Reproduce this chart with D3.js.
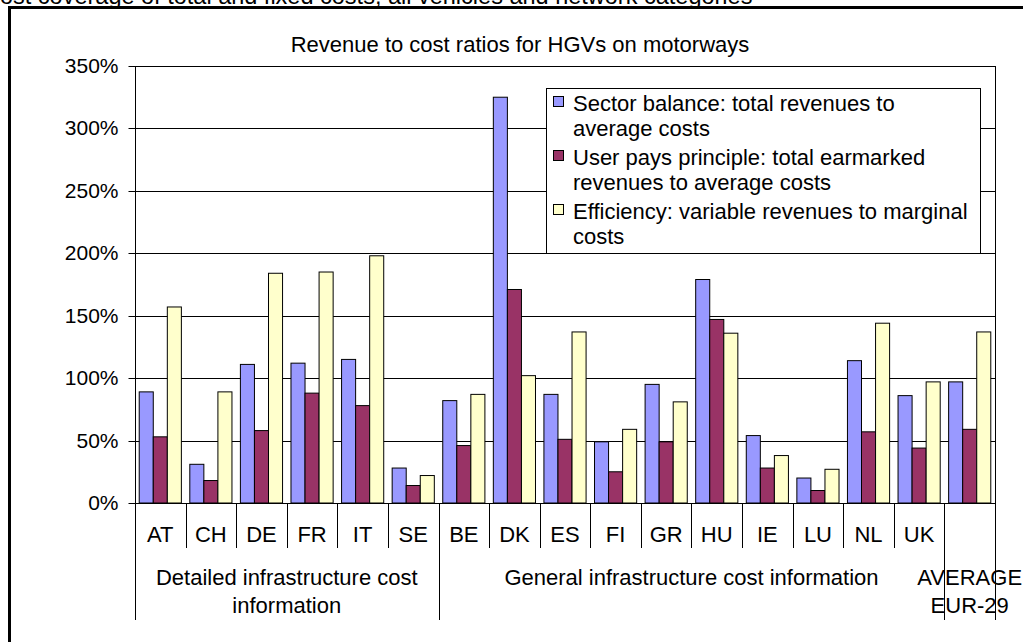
<!DOCTYPE html>
<html>
<head>
<meta charset="utf-8">
<script src="https://cdnjs.cloudflare.com/ajax/libs/d3/7.8.5/d3.min.js"></script>
<style>
  body { margin: 0; background: #fff; }
  svg text { font-family: "Liberation Sans", Arial, sans-serif; fill: #000; }
</style>
</head>
<body>
<svg id="chart"></svg>
<script>
// data
var categories = ["AT","CH","DE","FR","IT","SE","BE","DK","ES","FI","GR","HU","IE","LU","NL","UK","AVG"];
var catLabels  = ["AT","CH","DE","FR","IT","SE","BE","DK","ES","FI","GR","HU","IE","LU","NL","UK",""];
var sectorBalance = [89, 31, 111, 112, 115, 28, 82, 325, 87, 49, 95, 179, 54, 20, 114, 86, 97];
var userPays      = [53, 18, 58, 88, 78, 14, 46, 171, 51, 25, 49, 147, 28, 10, 57, 44, 59];
var efficiency    = [157, 89, 184, 185, 198, 22, 87, 102, 137, 59, 81, 136, 38, 27, 144, 97, 137];
var seriesNames = [
  ["Sector balance: total revenues to", "average costs"],
  ["User pays principle: total earmarked", "revenues to average costs"],
  ["Efficiency: variable revenues to marginal", "costs"]
];
var seriesColors = ["#9999ff", "#993366", "#ffffcc"];
var groups = [
  {lines: ["Detailed infrastructure cost", "information"], from: "AT", to: "SE"},
  {lines: ["General infrastructure cost information"], from: "BE", to: "UK"},
  {lines: ["AVERAGE", "EUR-29"], from: "AVG", to: "AVG"}
];
var yTicks = [0, 50, 100, 150, 200, 250, 300, 350];

var width = 1023, height = 642;
var plotLeft = 135, plotRight = 995, plotTop = 66, plotBase = 503;

var svg = d3.select("#chart").attr("width", width).attr("height", height);

// clipped heading of the page above the chart
svg.append("text")
    .attr("x", -17)
    .attr("y", 4)
    .style("font-size", "23.5px")
    .text("Cost coverage of total and fixed costs, all vehicles and network categories");

// outer frame
svg.append("rect")
    .attr("x", 9.5).attr("y", 7.5)
    .attr("width", 1100).attr("height", 700)
    .attr("fill", "#fff")
    .attr("stroke", "#000")
    .attr("stroke-width", 3);

svg.append("text")
    .attr("x", 520)
    .attr("y", 52)
    .attr("text-anchor", "middle")
    .style("font-size", "22px")
    .text("Revenue to cost ratios for HGVs on motorways");

var y = d3.scaleLinear().domain([0, 350]).range([plotBase, plotTop]);
var x0 = d3.scaleBand().domain(categories).range([plotLeft, plotRight]).padding(0);
var x1 = d3.scaleBand().domain([0, 1, 2]).range([0, x0.bandwidth()]).paddingInner(0).paddingOuter(0.3);

function py(v){ return Math.round(y(v)) + 0.5; }

// gridlines
svg.append("g").selectAll("line")
    .data(yTicks.filter(function(d){ return d > 0; }))
    .enter().append("line")
    .attr("x1", plotLeft).attr("x2", plotRight)
    .attr("y1", py).attr("y2", py)
    .attr("stroke", "#000");

// y axis
var yAxis = d3.axisLeft(y).tickValues(yTicks).tickSize(7).tickPadding(10)
    .tickFormat(function(d){ return d + "%"; });
var ya = svg.append("g").attr("transform", "translate(" + (plotLeft + 0.5) + ",0)").call(yAxis);
ya.select(".domain").remove();
ya.selectAll(".tick").attr("transform", function(d){ return "translate(0," + py(d) + ")"; });
ya.selectAll("line").attr("stroke", "#000");
ya.selectAll("text").style("font-size", "21px").attr("font-family", null);

// bars
var series = [sectorBalance, userPays, efficiency];
var cat = svg.append("g").selectAll("g")
    .data(categories)
    .enter().append("g")
    .attr("transform", function(d){ return "translate(" + x0(d) + ",0)"; });
cat.selectAll("rect")
    .data(function(d, i){ return series.map(function(s, k){ return {k: k, v: s[i]}; }); })
    .enter().append("rect")
    .attr("x", function(d){ return x1(d.k); })
    .attr("width", x1.bandwidth())
    .attr("y", function(d){ return y(d.v); })
    .attr("height", function(d){ return plotBase - y(d.v); })
    .attr("fill", function(d){ return seriesColors[d.k]; })
    .attr("stroke", "#000")
    .attr("stroke-width", 1);

// plot frame lines
svg.append("line").attr("x1", plotLeft + 0.5).attr("x2", plotLeft + 0.5).attr("y1", plotTop).attr("y2", 620).attr("stroke", "#000");
svg.append("line").attr("x1", plotRight + 0.5).attr("x2", plotRight + 0.5).attr("y1", plotTop).attr("y2", 620).attr("stroke", "#000");
svg.append("line").attr("x1", plotLeft).attr("x2", plotRight).attr("y1", plotBase + 0.5).attr("y2", plotBase + 0.5).attr("stroke", "#000");

// category dividers and labels
var groupEdges = groups.map(function(g){ return g.from; });
svg.append("g").selectAll("line")
    .data(categories.slice(1))
    .enter().append("line")
    .attr("x1", function(d){ return Math.round(x0(d)) + 0.5; })
    .attr("x2", function(d){ return Math.round(x0(d)) + 0.5; })
    .attr("y1", plotBase)
    .attr("y2", function(d){ return groupEdges.indexOf(d) >= 0 ? 620 : 548; })
    .attr("stroke", "#000");

svg.append("g").selectAll("text")
    .data(categories)
    .enter().append("text")
    .attr("x", function(d){ return x0(d) + x0.bandwidth() / 2; })
    .attr("y", 542)
    .attr("text-anchor", "middle")
    .style("font-size", "22px")
    .text(function(d, i){ return catLabels[i]; });

groups.forEach(function(g){
    var cx = (x0(g.from) + x0(g.to) + x0.bandwidth()) / 2;
    g.lines.forEach(function(t, j){
        svg.append("text")
            .attr("x", cx)
            .attr("y", 585 + j * 28)
            .attr("text-anchor", "middle")
            .style("font-size", "22px")
            .text(t);
    });
});

// legend
var lg = svg.append("g");
lg.append("rect")
    .attr("x", 546.5).attr("y", 88.5)
    .attr("width", 434).attr("height", 165)
    .attr("fill", "#fff").attr("stroke", "#000");
seriesNames.forEach(function(lines, i){
    var by = 111 + i * 54;
    lg.append("rect")
        .attr("x", 553.5).attr("y", by - 14.5)
        .attr("width", 10).attr("height", 10)
        .attr("fill", seriesColors[i]).attr("stroke", "#000");
    lines.forEach(function(t, j){
        lg.append("text")
            .attr("x", 573)
            .attr("y", by + j * 25)
            .style("font-size", "22px")
            .text(t);
    });
});
</script>
</body>
</html>
